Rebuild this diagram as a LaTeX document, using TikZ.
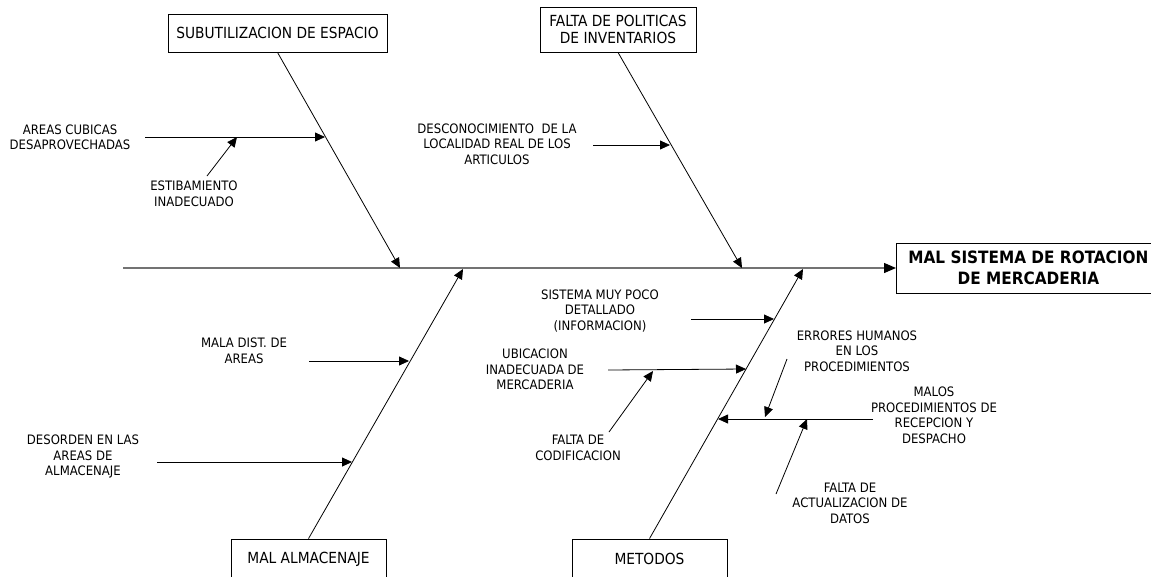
\documentclass[tikz,border=0pt]{standalone}
\usepackage{fontspec}
\setmainfont{DejaVu Sans Condensed}
\usetikzlibrary{arrows.meta}
\begin{document}
\begin{tikzpicture}[x=1pt,y=-1pt,
  tip/.style={-{Triangle[length=10pt,width=9pt]}},
  bone/.style={tip,line width=0.8pt,black},
  spine/.style={-{Triangle[length=12pt,width=10pt,black]},line width=1.3pt,black!55},
  cause/.style={draw,line width=0.8pt,inner sep=0pt,align=center,font=\fontsize{15.3}{16.7}\selectfont},
  lbl/.style={align=center,inner sep=0pt,font=\fontsize{13}{15.5}\selectfont},
  effectbox/.style={draw,line width=0.8pt,inner sep=0pt,align=center,minimum width=264,minimum height=50,anchor=west,font=\fontsize{17}{21.5}\selectfont\bfseries}]
\useasboundingbox (0,0) rectangle (1151,576);
\clip (0,0) rectangle (1151,576);

% effect and spine
\node[effectbox] (effect) at (896,268) {MAL SISTEMA DE ROTACION\\DE MERCADERIA};
\coordinate (tail) at (123,268);
\draw[spine] (tail) -- (effect.west);

% main causes
\node[cause,minimum width=219,minimum height=38] (sub) at (277.5,33) {SUBUTILIZACION DE ESPACIO};
\node[cause,minimum width=156,minimum height=45] (pol) at (618,29.5) {FALTA DE POLITICAS\\DE INVENTARIOS};
\node[cause,minimum width=155,minimum height=40] (alm) at (308.5,559) {MAL ALMACENAJE};
\node[cause,minimum width=155,minimum height=40] (met) at (649.5,559) {METODOS};

% points where the bones meet the spine
\coordinate (jsub) at (400,268);
\coordinate (jpol) at (742,268);
\coordinate (jalm) at (463,269);
\coordinate (jmet) at (803,269);

\draw[bone] (sub.south) -- (jsub);
\draw[bone] (pol.south) -- (jpol);
\draw[bone] (alm.north) -- (jalm);
\draw[bone] (met.north) -- (jmet);

% subutilizacion de espacio
\node[lbl] (areas) at (70,137.5) {AREAS CUBICAS\\DESAPROVECHADAS};
\coordinate (areasS) at (145,137);
\coordinate (areasE) at (325,137);
\draw[bone] (areasS) -- (areasE);
\node[lbl] (estib) at (194,194) {ESTIBAMIENTO\\INADECUADO};
\coordinate (estibS) at (207,176);
\coordinate (estibE) at (237,137);
\draw[bone] (estibS) -- (estibE);

% falta de politicas
\node[lbl] (desc) at (497,144) {DESCONOCIMIENTO~ DE LA\\LOCALIDAD REAL DE LOS\\ARTICULOS};
\coordinate (descS) at (593,145);
\coordinate (descE) at (670,145);
\draw[bone] (descS) -- (descE);

% mal almacenaje
\node[lbl] (mala) at (244,351) {MALA DIST. DE\\AREAS};
\coordinate (malaS) at (309,361);
\coordinate (malaE) at (409,361);
\draw[bone] (malaS) -- (malaE);
\node[lbl] (desor) at (83,456.5) {DESORDEN EN LAS\\AREAS DE\\ALMACENAJE};
\coordinate (desorS) at (157,462);
\coordinate (desorE) at (352,462);
\draw[bone] (desorS) -- (desorE);

% metodos
\node[lbl] (sist) at (600,311) {SISTEMA MUY POCO\\DETALLADO\\(INFORMACION)};
\coordinate (sistS) at (691,319);
\coordinate (sistE) at (774,319);
\draw[bone] (sistS) -- (sistE);
\node[lbl] (ubic) at (535,369.5) {UBICACION\\INADECUADA DE\\MERCADERIA};
\coordinate (ubicS) at (608,370);
\coordinate (ubicE) at (746,369);
\draw[bone] (ubicS) -- (ubicE);
\node[lbl] (cod) at (578,448) {FALTA DE\\CODIFICACION};
\coordinate (codS) at (609,432);
\coordinate (codE) at (653,371);
\draw[bone] (codS) -- (codE);
\node[lbl] (malos) at (934,415.5) {MALOS\\PROCEDIMIENTOS DE\\RECEPCION Y\\DESPACHO};
\coordinate (malosS) at (873,419);
\coordinate (malosE) at (718,419);
\draw[bone] (malosS) -- (malosE);
\node[lbl] (err) at (857,351) {ERRORES HUMANOS\\EN LOS\\PROCEDIMIENTOS};
\coordinate (errS) at (787,359);
\coordinate (errE) at (765,417);
\draw[bone] (errS) -- (errE);
\node[lbl] (act) at (850,503) {FALTA DE\\ACTUALIZACION DE\\DATOS};
\coordinate (actS) at (776,494);
\coordinate (actE) at (807,419);
\draw[bone] (actS) -- (actE);
\end{tikzpicture}
\end{document}
